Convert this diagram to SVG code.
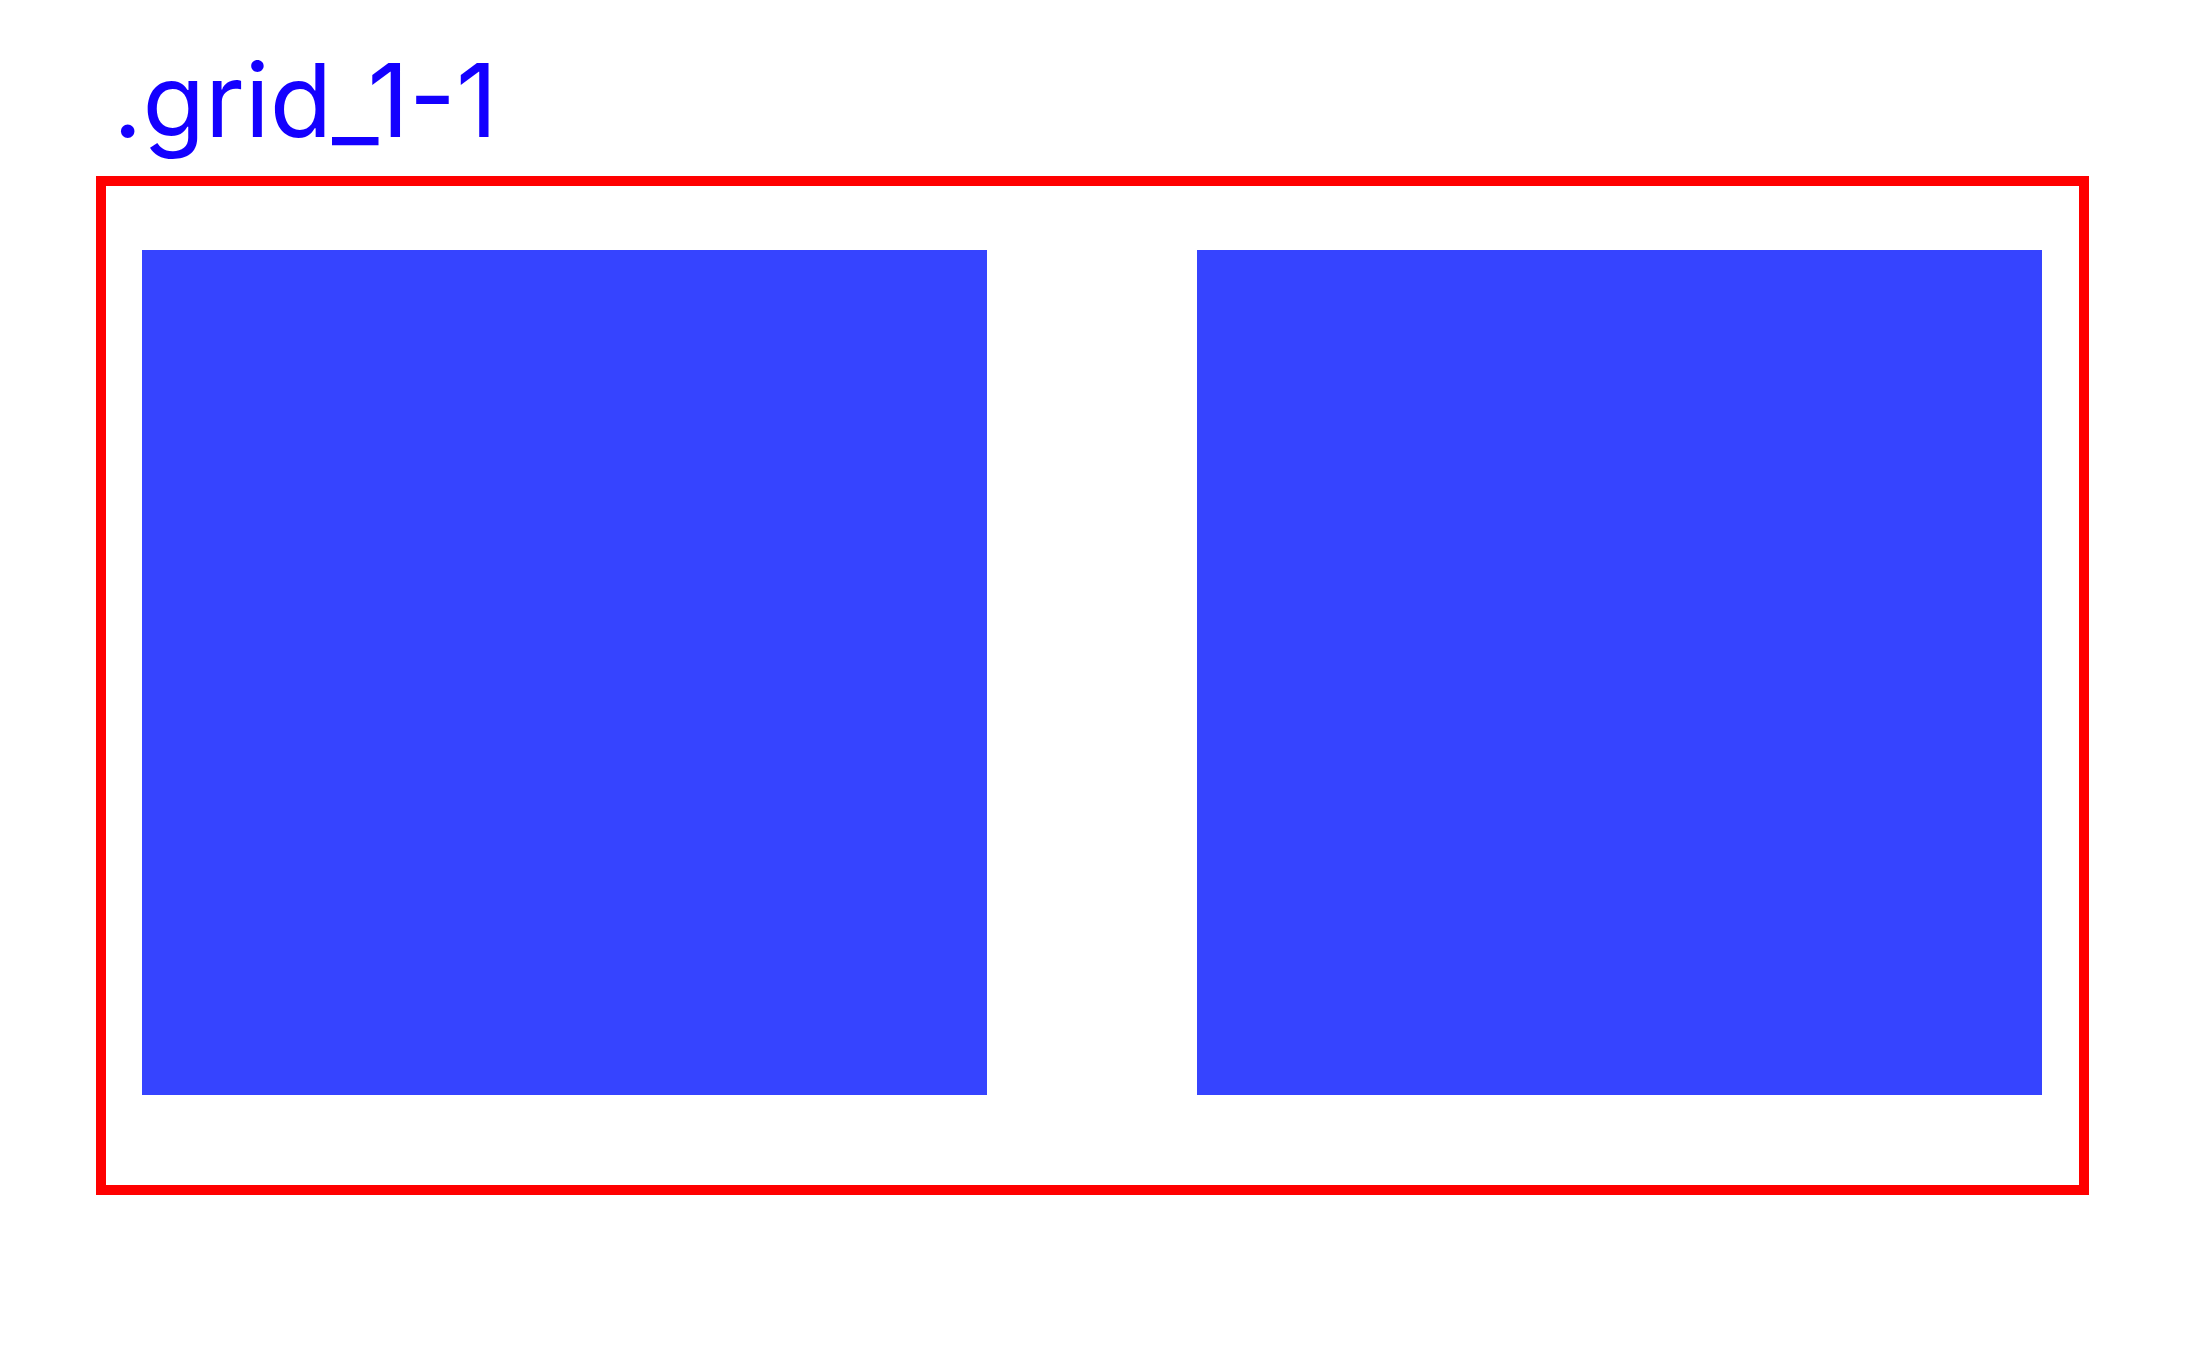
<svg xmlns="http://www.w3.org/2000/svg" width="2209" height="1346" viewBox="0 0 2209 1346">
<style>
.cell{fill:#3644ff}
.label{font-family:Inter,"Noto Sans",sans-serif;font-size:102px;fill:#1400ff}
</style>
<rect width="2209" height="1346" fill="#ffffff"/>
<text class="label" x="113" y="137">.grid_1-1</text>
<g id="grid">
<rect x="101" y="181" width="1983" height="1009" fill="none" stroke="#ff0000" stroke-width="10"/>
</g>
<g id="cell1"><rect class="cell" x="142" y="250" width="845" height="845"/></g>
<g id="cell2"><rect class="cell" x="1197" y="250" width="845" height="845"/></g>
<g id="connectors"/>
</svg>
